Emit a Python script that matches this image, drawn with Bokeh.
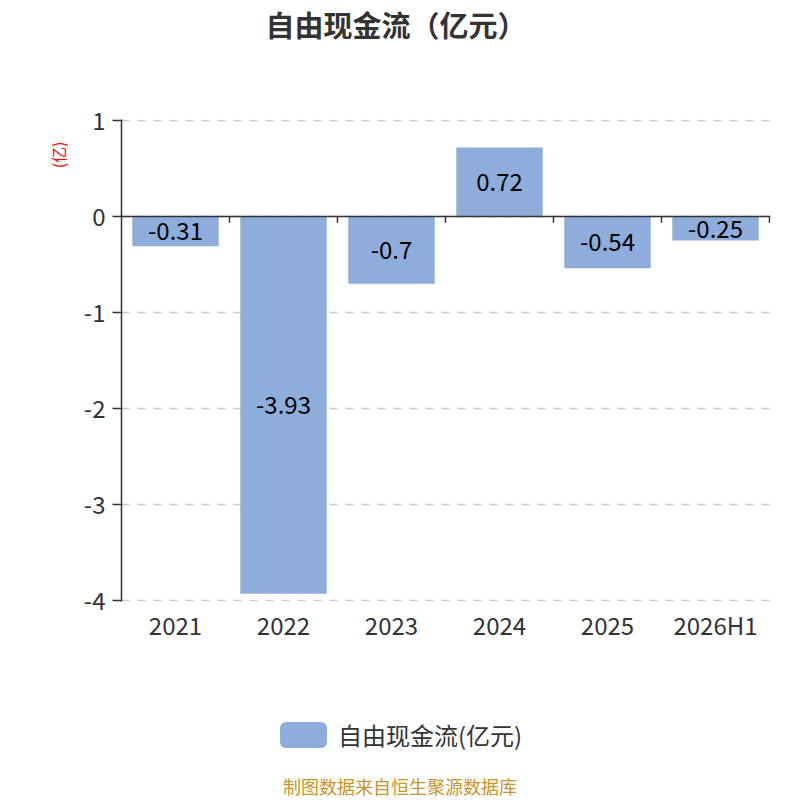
from bokeh.plotting import figure
from bokeh.models import (Range1d, FixedTicker, ColumnDataSource, LabelSet, Span, Title, Div)
from bokeh.layouts import column
from bokeh.core.properties import value
from bokeh.embed import file_html
from bokeh.resources import INLINE

categories = ["2021", "2022", "2023", "2024", "2025", "2026H1"]
values = [-0.31, -3.93, -0.7, 0.72, -0.54, -0.25]
value_labels = ["-0.31", "-3.93", "-0.7", "0.72", "-0.54", "-0.25"]
y_ticks = [-4, -3, -2, -1, 0, 1]
y_tick_labels = ["-4", "-3", "-2", "-1", "0", "1"]
series_name = "自由现金流(亿元)"
title_text = "自由现金流（亿元）"
y_unit = "(亿)"
footer_text = "制图数据来自恒生聚源数据库"

FONT = "Noto Sans CJK SC"
BAR = "#8EADDB"
TXT = "#333333"

n = len(categories)
xs = [i + 0.5 for i in range(n)]
src = ColumnDataSource(dict(x=xs, top=values, mid=[v / 2 for v in values], lab=value_labels))

W = 790
pad = 1 / 96  # one pixel of headroom so edge gridlines are visible
p = figure(width=W, height=550, x_range=Range1d(0, n + 1 / 108),
           y_range=Range1d(y_ticks[0] - pad, y_ticks[-1] + pad),
           output_backend="svg", toolbar_location=None,
           min_border_left=121, min_border_right=20, min_border_top=19, min_border_bottom=49)
p.outline_line_color = None
p.background_fill_color = "white"
p.border_fill_color = "white"

r = p.vbar(x="x", top="top", bottom=0, width=0.8, source=src, fill_color=BAR, line_color=None)

p.add_layout(LabelSet(x="x", y="mid", text="lab", source=src, text_align="center",
                      text_baseline="middle", text_font=value(FONT), text_font_size="24px",
                      text_color="black"))

# x axis
p.xaxis.ticker = FixedTicker(ticks=xs)
p.xaxis.major_label_overrides = {x: c for x, c in zip(xs, categories)}
p.xaxis.axis_line_color = None
p.xaxis.major_tick_line_color = None
p.xaxis.major_tick_out = 0
p.xaxis.major_tick_in = 0
p.xaxis.minor_tick_line_color = None
p.xaxis.minor_tick_out = 0
p.xaxis.major_label_text_font = FONT
p.xaxis.major_label_text_font_size = "24px"
p.xaxis.major_label_text_color = TXT
p.xaxis.major_label_standoff = 5

# y axis
p.yaxis.ticker = FixedTicker(ticks=y_ticks)
p.yaxis.major_label_overrides = {t: s for t, s in zip(y_ticks, y_tick_labels)}
p.yaxis.axis_line_color = TXT
p.yaxis.axis_line_width = 1.5
p.yaxis.major_tick_line_color = TXT
p.yaxis.major_tick_line_width = 1.5
p.yaxis.major_tick_out = 9
p.yaxis.major_tick_in = 0
p.yaxis.minor_tick_line_color = None
p.yaxis.major_label_text_font = FONT
p.yaxis.major_label_text_font_size = "24px"
p.yaxis.major_label_text_color = TXT
p.yaxis.major_label_standoff = 7

p.xgrid.grid_line_color = None
p.ygrid.grid_line_color = "#CCCCCC"
p.ygrid.grid_line_dash = "8 8"
p.ygrid.grid_line_width = 1.5

# zero line with category boundary ticks
p.add_layout(Span(location=0, dimension="width", line_color=TXT, line_width=1.5))
bounds = list(range(1, n + 1))
p.segment(x0=bounds, y0=[0] * n, x1=bounds, y1=[-0.065] * n, line_color=TXT, line_width=1.5)

# y unit label (rotated, near top of the axis)
p.add_layout(Title(text=y_unit, align="right", offset=22, standoff=21,
                   text_font=FONT, text_font_size="16px", text_font_style="normal",
                   text_color="red"), "left")

title_html = (
    '<div style="position:relative;width:%dpx;height:100px;">'
    '<div style="position:absolute;left:6px;top:0;width:780px;text-align:center;'
    'line-height:48px;font-size:29px;font-weight:bold;color:%s;font-family:\'%s\';'
    'white-space:nowrap;">%s</div>'
    '</div>' % (W, TXT, FONT, title_text)
)
bottom_html = (
    '<div style="position:relative;width:%dpx;height:150px;font-family:\'%s\';">'
    '<div style="position:absolute;left:280px;top:72px;width:47px;height:26px;'
    'background:%s;border-radius:6px;"></div>'
    '<div style="position:absolute;left:338px;top:72px;height:26px;line-height:26px;'
    'font-size:24px;color:%s;white-space:nowrap;">%s</div>'
    '<div style="position:absolute;left:0;top:123px;width:800px;text-align:center;'
    'line-height:26px;font-size:18px;color:#C8942C;white-space:nowrap;">%s</div>'
    '</div>' % (W, FONT, BAR, TXT, series_name, footer_text)
)
top_div = Div(text=title_html, width=W, height=100, margin=0)
bottom_div = Div(text=bottom_html, width=W, height=150, margin=0)

layout = column(top_div, p, bottom_div, spacing=0)
open("out.html", "w").write(file_html(layout, INLINE))
